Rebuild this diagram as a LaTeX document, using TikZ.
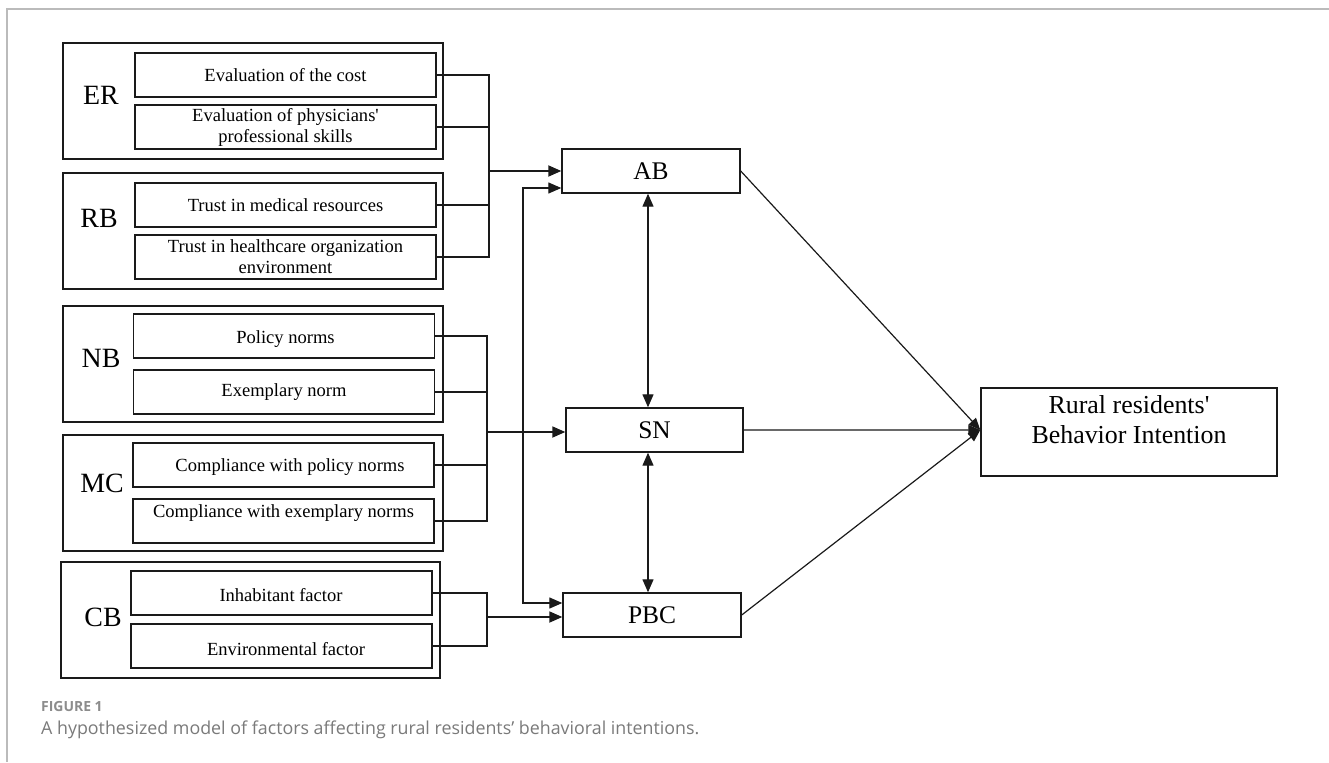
\documentclass[tikz,border=0pt]{standalone}
\usepackage{fontspec}
\newfontfamily\dfont{Liberation Serif}
\newfontfamily\capfont{Open Sans}
\usetikzlibrary{arrows.meta}
\definecolor{ink}{HTML}{1A1A1A}
\definecolor{capgray}{HTML}{7A7A7A}
\definecolor{figgray}{HTML}{8C8C8C}
\definecolor{framegray}{HTML}{BBBBBB}
\begin{document}
\begin{tikzpicture}[x=1bp,y=-1bp,
  outer/.style={draw=ink, line width=1.4bp, minimum width=380bp, minimum height=116bp, inner sep=0pt},
  inbox/.style={draw=ink, line width=1.4bp, minimum width=301bp, minimum height=44bp, inner sep=0pt, align=center, font=\fontsize{18.6}{21}\selectfont},
  intext/.style={inner sep=0pt, align=center, font=\fontsize{18.6}{21}\selectfont},
  grp/.style={inner sep=0pt, font=\fontsize{28}{32}\selectfont},
  cbox/.style={draw=ink, line width=1.4bp, minimum width=178bp, minimum height=44bp, inner sep=0pt, font=\fontsize{25.5}{30}\selectfont},
  wire/.style={draw=ink, line width=1.3bp},
  bus/.style={draw=ink, line width=1.8bp, -{Triangle[length=13bp,width=11bp]}},
  lk/.style={draw=ink, line width=1.3bp, {Triangle[length=13bp,width=11bp]}-{Triangle[length=13bp,width=11bp]}},
  toBI/.style={draw=ink, line width=1.2bp, -{Triangle[length=12bp,width=10bp]}}
]
\dfont
\useasboundingbox (0,0) rectangle (1329,762);
\fill[white] (0,0) rectangle (1329,762);
% frame
\draw[framegray, line width=1.5bp] (1329,9) -- (7,9) -- (7,762);

% ER group
\node[outer] (er) at (253,101) {};
\node[grp] (erl) at (101,95) {ER};
\node[inbox] (er1) at (285.5,75) {Evaluation of the cost};
\node[inbox] (er2) at (285.5,127) {Evaluation of physicians'\\professional skills};

% RB group
\node[outer] (rb) at (253,231) {};
\node[grp] (rbl) at (99,218) {RB};
\node[inbox] (rb1) at (285.5,205) {Trust in medical resources};
\node[inbox] (rb2) at (285.5,257) {Trust in healthcare organization\\environment};

% NB group
\node[outer] (nb) at (253,364) {};
\node[grp] (nbl) at (101,358) {NB};
\node[inbox] (nb1) at (284,336) {};
\node[intext] (nb1t) at (285.5,339) {Policy norms};
\node[inbox] (nb2) at (284,392) {Exemplary norm};

% MC group
\node[outer] (mc) at (253,493) {};
\node[grp] (mcl) at (102,483) {MC};
\node[inbox] (mc1) at (283.5,465) {};
\node[intext] (mc1t) at (290,467) {Compliance with policy norms};
\node[inbox] (mc2) at (283.5,521) {};
\node[intext] (mc2t) at (283.5,513) {Compliance with exemplary norms};

% CB group
\node[outer, minimum width=379bp] (cb) at (250.5,620) {};
\node[grp] (cbl) at (103,617) {CB};
\node[inbox] (cb1) at (281.5,593) {};
\node[intext] (cb1t) at (281,595) {Inhabitant factor};
\node[inbox] (cb2) at (281.5,646) {};
\node[intext] (cb2t) at (286,649) {Environmental factor};

% central constructs
\node[cbox] (ab) at (651,171) {AB};
\node[cbox, minimum width=177bp] (sn) at (654.5,430) {SN};
\node[cbox] (pbc) at (652,615) {PBC};

% outcome
\node[draw=ink, line width=1.4bp, minimum width=296bp, minimum height=88bp, inner sep=0pt] (bi) at (1129,432) {};
\node[inner sep=0pt, align=center, font=\fontsize{26}{30}\selectfont] (bit) at (1129,420) {Rural residents'\\Behavior Intention};

% bus 1 (ER, RB -> AB)
\coordinate (b1) at (489,171);
\draw[wire] (er1.east) -- (er1.east -| b1) -- (rb2.east -| b1) -- (rb2.east);
\draw[wire] (er2.east) -- (er2.east -| b1);
\draw[wire] (rb1.east) -- (rb1.east -| b1);
\draw[bus] (b1) -- (b1 -| ab.west);

% bus 2 (NB, MC -> SN)
\coordinate (b2) at (487,432);
\draw[wire] (nb1.east) -- (nb1.east -| b2) -- (mc2.east -| b2) -- (mc2.east);
\draw[wire] (nb2.east) -- (nb2.east -| b2);
\draw[wire] (mc1.east) -- (mc1.east -| b2);
\draw[bus] (b2) -- (b2 -| sn.west);

% bus 3 (CB -> PBC)
\coordinate (b3) at (487,617);
\draw[wire] (cb1.east) -- (cb1.east -| b3) -- (cb2.east -| b3) -- (cb2.east);
\draw[bus] (b3) -- (b3 -| pbc.west);

% AB <-> PBC side link
\coordinate (k1) at (523,188);
\coordinate (k2) at (523,603);
\draw[lk] (k1 -| ab.west) -- (k1) -- (k2) -- (k2 -| pbc.west);

% vertical two-way links
\coordinate (vx) at (648,0);
\draw[lk] (ab.south -| vx) -- (sn.north -| vx);
\draw[lk] (sn.south -| vx) -- (pbc.north -| vx);

% links to outcome
\draw[toBI] (ab.east) -- ([yshift=2bp]bi.west);
\draw[toBI] (sn.east) -- ([yshift=2bp]bi.west);
\draw[toBI] (pbc.east) -- ([yshift=2bp]bi.west);

% caption
\node[anchor=west, inner sep=0pt, text=figgray, font=\capfont\bfseries\fontsize{14}{16}\selectfont] (fig) at (41,707) {FIGURE 1};
\node[anchor=west, inner sep=0pt, text=capgray, font=\capfont\fontsize{17.9}{21}\selectfont] (cap) at (41,730) {A hypothesized model of factors affecting rural residents’ behavioral intentions.};
\end{tikzpicture}
\end{document}
